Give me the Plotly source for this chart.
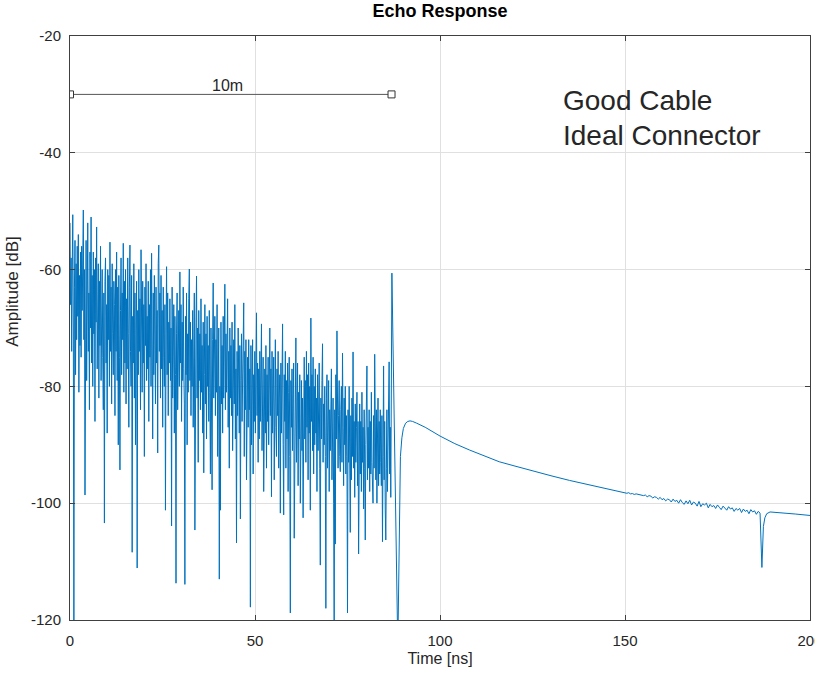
import plotly.graph_objects as go

# ---------------- data ----------------
# Noisy near-end echo, sampled every 0.15 ns starting at t = 0 (20 samples = 3 ns per row)
noise_dt = 0.15
noise_db = [
    -52, -66, -58, -74, -60, -50.6, -70, -125, -63, -55, -78, -59, -72, -56, -68, -54, -81, -61, -73, -57,
    -75, -56, -67, -53, -49.8, -72, -60, -98.6, -69, -55, -79, -62, -52, -74, -64, -84, -57, -70, -51, -76,
    -61, -80, -57, -71, -60, -86, -58, -69, -52.7, -77, -63, -59, -82, -62, -73, -56, -79, -65, -60, -75,
    -84, -64, -103.4, -62, -58, -76, -66, -88, -60, -72, -61, -80, -55.3, -74, -63, -83, -59, -71, -78, -62,
    -66, -85, -60, -74, -57, -79, -63, -90, -61, -75, -94.3, -67, -58, -78, -64, -72, -55.5, -81, -62, -76,
    -60, -83, -65, -77, -58, -71, -87, -63, -55.8, -74, -80, -61, -108.4, -68, -76, -59, -82, -64, -90, -70,
    -62, -111.1, -67, -78, -60, -74, -65, -84, -56.6, -72, -81, -62, -76, -66, -92, -63, -73, -59, -79, -68,
    -77, -62, -86, -66, -75, -60, -80, -57.2, -70, -89, -64, -78, -61, -73, -83, -63, -76, -67, -91.4, -59,
    -55.8, -74, -64, -82, -61, -77, -67, -87, -63, -75, -80, -66, -101.2, -71, -59.5, -78, -64, -85, -69, -76,
    -65, -79, -70, -103.9, -63, -82, -72, -66, -88, -68, -78, -113.7, -71, -64, -84, -74, -67, -80, -60.4, -76,
    -66, -86, -69, -79, -63, -77, -83, -113.9, -68, -78, -64, -90, -71, -81, -65, -59.9, -79, -69, -85, -72,
    -80, -67, -87, -72, -64, -104.6, -78, -69, -61.1, -82, -70, -93, -67, -79, -71, -84, -65, -81, -73, -88,
    -69, -94.8, -78, -66, -83, -71, -89, -68, -80, -73, -86, -67, -81, -95, -70, -79, -97.7, -72, -62.3, -82,
    -77, -68, -85, -72, -81, -66, -92, -75, -70, -113, -80, -101.2, -69, -83, -73, -88, -68, -82, -75, -62.5,
    -84, -71, -81, -68, -65, -87, -74, -94, -70, -82, -73, -85, -69, -91, -76, -72, -83, -66, -89, -77,
    -106.8, -74, -85, -70, -82, -88, -73, -102.7, -79, -71, -86, -76, -67, -65.7, -92, -74, -84, -72, -96, -78,
    -75, -87, -72, -84, -77, -117.8, -73, -90, -80, -72, -95, -78, -86, -74, -88, -71, -67.4, -85, -76, -93,
    -77, -89, -74, -86, -79, -69.3, -91, -80, -75, -98, -82, -77, -88, -73, -94, -78, -86, -75, -90, -80,
    -70, -85, -77, -98.9, -74, -88, -80, -75, -96, -79, -72, -87, -92, -77, -85, -74, -94, -82, -78, -101.7,
    -76, -88, -80, -69.3, -90, -102, -78, -86, -74, -94, -79, -89, -76, -98, -81, -75, -92, -118.8, -79, -87,
    -77, -91, -82, -76, -106, -88, -79, -71.7, -93, -83, -76, -97, -81, -89, -78, -100, -84, -79, -91, -82,
    -102.5, -81, -75, -89, -79, -93, -74, -87, -78, -96, -76, -88, -80, -101.2, -68.3, -86, -78, -91, -75, -95,
    -80, -90, -77, -88, -82, -98, -78, -91, -83, -76, -94, -110.6, -82, -89, -79, -72.7, -93, -83, -90, -80,
    -92, -118, -82, -78, -94, -85, -79, -98, -84, -91, -81, -77, -96, -86, -82, -100, -123, -84, -107, -78,
    -89, -70.5, -82, -94, -85, -79, -92, -94.6, -84, -80, -93, -74.3, -87, -97, -82, -90, -80, -95, -85, -92,
    -118.8, -84, -93, -80, -91, -105, -85, -96, -82, -92, -74.1, -94, -86, -99, -83, -93, -87, -81, -97, -86,
    -108.7, -92, -83, -95, -86, -98, -81, -93, -87, -101, -84, -94, -106.3, -90, -83, -76.5, -96, -87, -94, -84,
    -98, -86, -95, -81, -93, -99, -100, -85, -94, -74.5, -90, -96, -84, -100, -89, -82, -97, -86, -95, -84,
    -93, -97, -85, -106.6, -92, -76.5, -96, -86, -101, -106.3, -94, -84, -98, -90, -81, -75.8, -95, -87, -99, -83,
]

# Far-end connector reflection and smooth tail
tail_t = [87.0, 88.6, 89.0, 89.3, 89.7, 90.1, 90.7, 91.3, 91.9, 92.6, 93.7,
          96, 100, 104, 108, 112, 116, 120, 125, 130, 135, 140, 143, 146, 150]
tail_db = [-60.6, -125, -100, -92, -88.8, -87.2, -86.3, -86.0, -85.9, -86.0, -86.3,
           -87.0, -88.5, -89.8, -90.9, -91.9, -92.9, -93.6, -94.5, -95.3, -96.1, -96.8, -97.3, -97.7, -98.2]

# Slightly noisy tail, sampled every 0.5 ns starting at 150.5 ns
ripple_t0 = 150.5
ripple_dt = 0.5
ripple_db = [
    -98.3, -98.2, -98.4, -98.35, -98.5, -98.4, -98.45, -98.6, -98.55, -98.7,
    -98.6, -98.9, -98.7, -98.8, -99.1, -98.9, -99.0, -99.3, -99.0, -99.4,
    -99.2, -99.6, -99.3, -99.4, -99.8, -99.3, -99.7, -99.5, -100.0, -99.4,
    -99.9, -100.2, -99.6, -100.1, -99.5, -100.3, -99.8, -100.0, -100.5, -99.7,
    -100.6, -100.1, -100.3, -100.0, -100.8, -100.2, -100.6, -100.4, -100.9, -100.3,
    -100.7, -101.1, -100.5, -100.9, -101.2, -100.6, -101.0, -100.8, -101.4, -100.9,
    -101.2, -100.9, -101.6, -101.0, -101.4, -101.2, -101.8, -101.1, -101.5, -101.3,
    -101.9, -101.4, -101.7,
]

end_t = [187.0, 187.4, 187.8, 188.3, 189.2, 192, 196, 200]
end_db = [-111, -104, -102.5, -101.8, -101.5, -101.6, -101.85, -102.1]

# Dimension marker for cable length
span_label = "10m"
span_x = [0, 86.9]
span_y = -30

note_lines = ["Good Cable", "Ideal Connector"]

x_ticks = [0, 50, 100, 150, 200]
y_ticks = [-120, -100, -80, -60, -40, -20]

# ---------------- assemble series ----------------
t_all = [i * noise_dt for i in range(len(noise_db))]
t_all += tail_t
t_all += [ripple_t0 + i * ripple_dt for i in range(len(ripple_db))]
t_all += end_t
db_all = noise_db + tail_db + ripple_db + end_db

FONT = "Liberation Sans, Arial, Helvetica, sans-serif"
TXT = "#262626"
AX = "#404040"
GRID = "#e0e0e0"

fig = go.Figure()
fig.add_trace(go.Scatter(
    x=t_all, y=db_all, mode="lines",
    line=dict(color="#0072BD", width=1.0),
    showlegend=False, hoverinfo="skip",
))
fig.add_trace(go.Scatter(
    x=span_x, y=[span_y] * len(span_x), mode="lines+markers",
    line=dict(color="#555555", width=1),
    marker=dict(symbol="square", size=7, color="white",
                line=dict(color="#333333", width=1)),
    showlegend=False, hoverinfo="skip",
))

fig.add_annotation(x=sum(span_x) / 2 - 1, y=span_y, text=span_label,
                   showarrow=False, yanchor="bottom", yshift=-2,
                   font=dict(family=FONT, size=16, color=TXT))
for k, line in enumerate(note_lines):
    fig.add_annotation(x=132.8, y=-31.0 - 6.0 * k, text=line, showarrow=False,
                       xanchor="left", yanchor="middle",
                       font=dict(family=FONT, size=28, color=TXT))

# y-axis label (placed as in the reference, slightly above the axis centre)
fig.add_annotation(xref="paper", x=0, xshift=-57, yref="y", y=-63.8,
                   text="Amplitude [dB]", textangle=-90, showarrow=False,
                   xanchor="center", yanchor="middle",
                   font=dict(family=FONT, size=17, color=TXT))

axis_common = dict(
    showline=True, linecolor=AX, linewidth=1, mirror="allticks",
    ticks="inside", ticklen=5, tickcolor=AX,
    showgrid=True, gridcolor=GRID, gridwidth=1,
    zeroline=False, automargin=False, ticklabeloverflow="allow",
    tickfont=dict(family=FONT, size=15, color=TXT),
)

fig.update_xaxes(range=[0, 200], tickvals=x_ticks,
                 ticktext=[str(v) for v in x_ticks], ticklabelstandoff=7,
                 title=dict(text="Time [ns]", standoff=4,
                            font=dict(family=FONT, size=16, color=TXT)),
                 **axis_common)
fig.update_yaxes(range=[-120, -20], tickvals=y_ticks,
                 ticktext=[str(v) for v in y_ticks], ticklabelstandoff=5,
                 **axis_common)

fig.update_layout(
    width=815, height=674,
    margin=dict(l=70, r=5, t=36, b=54),
    paper_bgcolor="white", plot_bgcolor="white",
    template="none",
    title=dict(text="<b>Echo Response</b>", x=440 / 815, xanchor="center",
               y=1 - 11 / 674, yanchor="middle",
               font=dict(family=FONT, size=18, color="#000000")),
)

fig.write_html("out.html")
